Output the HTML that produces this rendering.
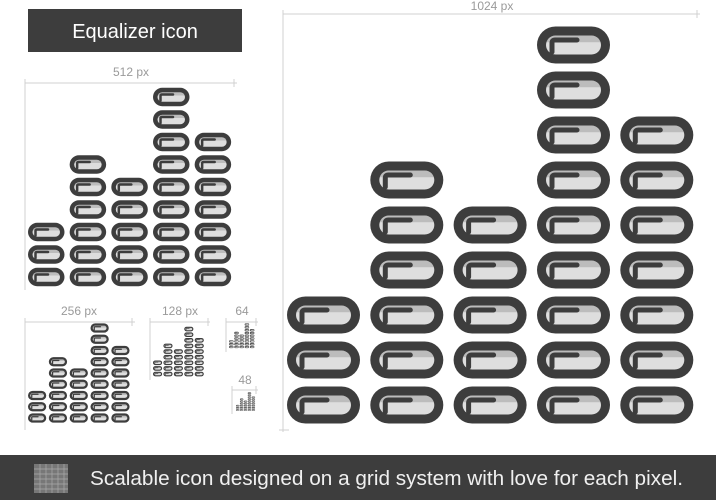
<!DOCTYPE html>
<html><head><meta charset="utf-8"><style>
html,body{margin:0;padding:0;background:#fff;width:716px;height:500px;overflow:hidden;font-family:"Liberation Sans",sans-serif}
</style></head><body>
<svg width="716" height="500" viewBox="0 0 716 500" xmlns="http://www.w3.org/2000/svg">
<defs>
<linearGradient id="g" x1="0" y1="0" x2="0" y2="1">
<stop offset="0" stop-color="#bcbcbc"/><stop offset="0.35" stop-color="#bcbcbc"/><stop offset="0.36" stop-color="#dedede"/><stop offset="1" stop-color="#dedede"/>
</linearGradient>
<g id="p">
<rect x="0" y="-18.5" width="73" height="37" rx="18.5" fill="#3d3d3d"/>
<rect x="9" y="-9.5" width="55" height="19" rx="9.5" fill="url(#g)"/>
<path d="M15 7 V-2 Q15 -5 18 -5 H40" fill="none" stroke="#3d3d3d" stroke-width="5" stroke-linecap="round"/>
</g>
<g id="icon">
<use href="#p" x="0" y="0"/><use href="#p" x="0" y="-45"/><use href="#p" x="0" y="-90"/>
<use href="#p" x="83.3" y="0"/><use href="#p" x="83.3" y="-45"/><use href="#p" x="83.3" y="-90"/><use href="#p" x="83.3" y="-135"/><use href="#p" x="83.3" y="-180"/><use href="#p" x="83.3" y="-225"/>
<use href="#p" x="166.6" y="0"/><use href="#p" x="166.6" y="-45"/><use href="#p" x="166.6" y="-90"/><use href="#p" x="166.6" y="-135"/><use href="#p" x="166.6" y="-180"/>
<use href="#p" x="250" y="0"/><use href="#p" x="250" y="-45"/><use href="#p" x="250" y="-90"/><use href="#p" x="250" y="-135"/><use href="#p" x="250" y="-180"/><use href="#p" x="250" y="-225"/><use href="#p" x="250" y="-270"/><use href="#p" x="250" y="-315"/><use href="#p" x="250" y="-360"/>
<use href="#p" x="333.3" y="0"/><use href="#p" x="333.3" y="-45"/><use href="#p" x="333.3" y="-90"/><use href="#p" x="333.3" y="-135"/><use href="#p" x="333.3" y="-180"/><use href="#p" x="333.3" y="-225"/><use href="#p" x="333.3" y="-270"/>
</g>
</defs>
<rect x="28" y="9" width="214" height="43" fill="#3d3d3d"/>
<text x="135" y="38" font-size="20" fill="#fff" text-anchor="middle">Equalizer icon</text>
<g stroke="#d0d0d0" stroke-width="1" fill="none">
<path d="M283 14 H700 M283 10 V432 M697 10 V18 M279 430 H289"/>
<path d="M25 83 H237 M25 79 V290 M234 79 V87"/>
<path d="M25 322 H135 M25 318 V430 M132 318 V326"/>
<path d="M150 322 H210 M150 318 V380 M208 318 V326"/>
<path d="M226 322 H258 M226 318 V352 M256 318 V326"/>
<path d="M232 390 H258 M232 386 V414 M256 386 V394"/>
</g>
<g fill="#9a9a9a" font-size="12" text-anchor="middle">
<text x="492" y="10">1024 px</text>
<text x="131" y="76">512 px</text>
<text x="79" y="315">256 px</text>
<text x="180" y="315">128 px</text>
<text x="242" y="315">64</text>
<text x="245" y="384">48</text>
</g>
<use href="#icon" transform="translate(287,405)"/>
<use href="#icon" transform="translate(28,277) scale(0.5)"/>
<use href="#icon" transform="translate(28,418) scale(0.25)"/>
<use href="#icon" transform="translate(153,374) scale(0.125)"/>
<use href="#icon" transform="translate(229,347) scale(0.0625)"/>
<use href="#icon" transform="translate(236,410) scale(0.047)"/>
<rect x="0" y="455" width="716" height="45" fill="#3d3d3d"/>
<rect x="34" y="464" width="34" height="29" fill="#777"/>
<g stroke="#aaa" stroke-width="0.7">
<path d="M34 469H68M34 474H68M34 479H68M34 484H68M34 489H68M40 464V493M46 464V493M52 464V493M58 464V493M64 464V493"/>
</g>
<text x="90" y="485" font-size="20" fill="#f0f0f0" textLength="593" lengthAdjust="spacingAndGlyphs">Scalable icon designed on a grid system with love for each pixel.</text>
</svg>
</body></html>
